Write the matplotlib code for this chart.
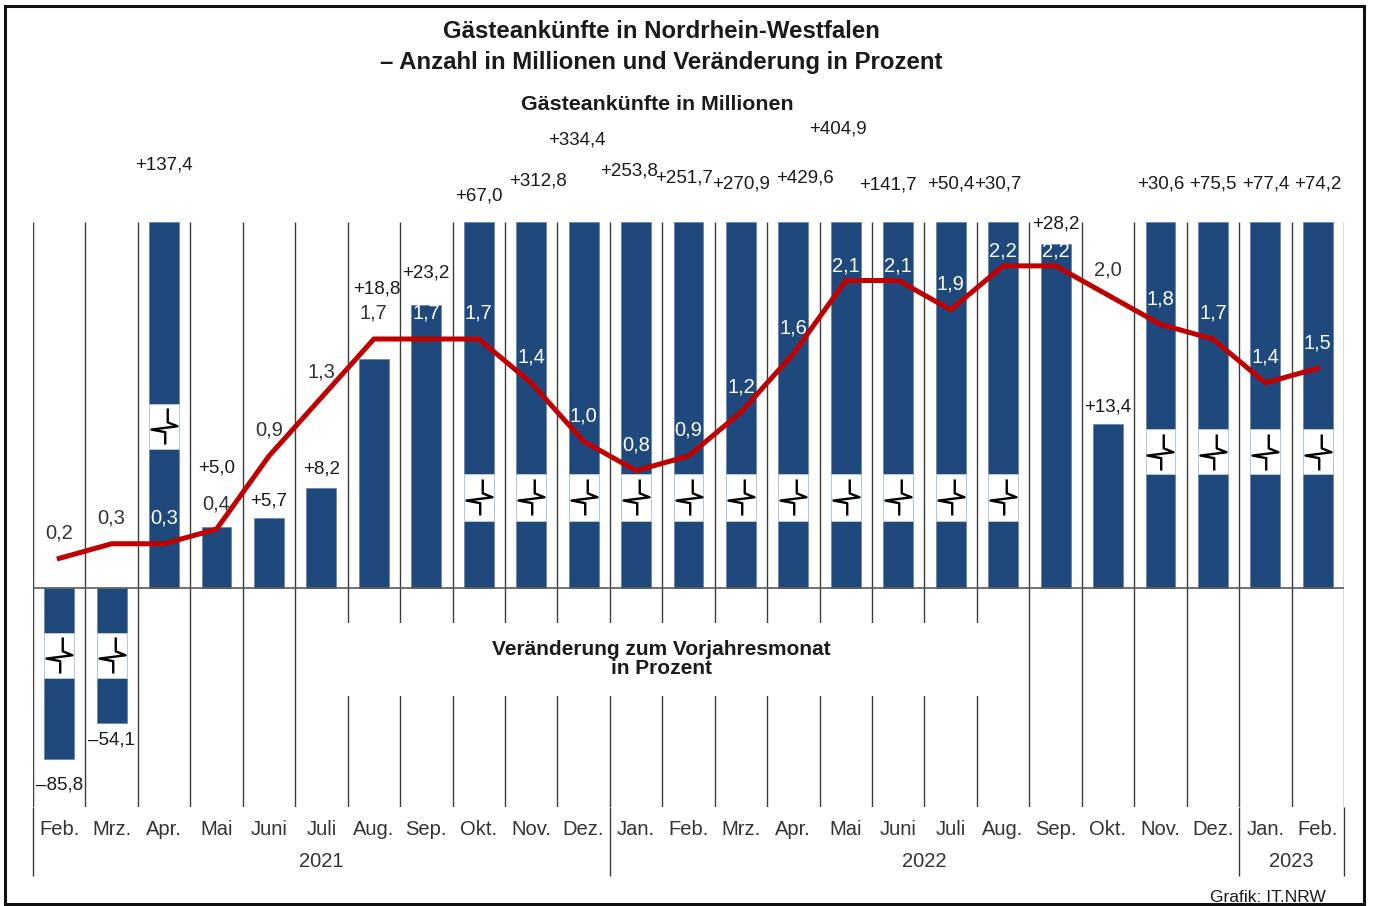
import numpy as np
import matplotlib
matplotlib.use("Agg")
import matplotlib.pyplot as plt
from matplotlib.path import Path
from matplotlib.patches import Rectangle
from matplotlib.transforms import blended_transform_factory

plt.rcParams['font.family'] = ['Liberation Sans', 'DejaVu Sans']

# ---------------- data ----------------
months = ['Feb.', 'Mrz.', 'Apr.', 'Mai', 'Juni', 'Juli', 'Aug.', 'Sep.', 'Okt.', 'Nov.', 'Dez.',
          'Jan.', 'Feb.', 'Mrz.', 'Apr.', 'Mai', 'Juni', 'Juli', 'Aug.', 'Sep.', 'Okt.', 'Nov.', 'Dez.',
          'Jan.', 'Feb.']
years = ['2021', '2022', '2023']
year_counts = [11, 12, 2]
arrivals = [0.2, 0.3, 0.3, 0.4, 0.9, 1.3, 1.7, 1.7, 1.7, 1.4, 1.0,
            0.8, 0.9, 1.2, 1.6, 2.1, 2.1, 1.9, 2.2, 2.2, 2.0, 1.8, 1.7,
            1.4, 1.5]
change = [-85.8, -54.1, 137.4, 5.0, 5.7, 8.2, 18.8, 23.2, 67.0, 312.8, 334.4,
          253.8, 251.7, 270.9, 429.6, 404.9, 141.7, 50.4, 30.7, 28.2, 13.4, 30.6, 75.5,
          77.4, 74.2]

# ---------------- layout ----------------
PCT_MIN, PCT_MAX = -18, 30          # percent axis
MIO_PER_PCT = 12                    # 1 million <-> 12 percent on shared zero
# broken-bar gaps (lower end, upper end) in drawn percent units
gap_layout = {0: (-3.7, -7.4), 1: (-3.7, -7.4), 2: (11.4, 15.1)}
for i in range(8, 19):
    gap_layout[i] = (5.5, 9.3)
for i in range(21, 25):
    gap_layout[i] = (9.3, 13.0)
neg_drawn_end = {0: -14.1, 1: -11.1}
pct_label_y = [-16.2, -12.5, 34.7, 9.8, 7.1, 9.7, 24.5, 25.8, 32.1, 33.4, 36.7,
               34.2, 33.6, 33.1, 33.6, 37.6, 33.0, 33.1, 33.1, 29.8, 14.8, 33.1, 33.1,
               33.1, 33.1]
pct_label_dx = {6: 0.06, 9: 0.13, 10: -0.13, 11: -0.13, 12: -0.08, 14: 0.23,
                15: -0.15, 16: -0.19, 18: -0.1}

BAR_C = '#1F497D'
LINE_C = '#C00000'
TXT = '#1A1A1A'
GRID = '#3C3C3C'

W, H = 1373, 906
fig = plt.figure(figsize=(W / 100, H / 100), dpi=100)
L, R, T, B = 33, 1344, 222, 807
ax = fig.add_axes([L / W, 1 - B / H, (R - L) / W, (B - T) / H])
ax.set_xlim(-0.5, len(months) - 0.5)
ax.set_ylim(PCT_MIN, PCT_MAX)
ax.axis('off')
x = np.arange(len(months))
bw = 0.57

# separators
ax.vlines(np.arange(len(months) + 1) - 0.5, PCT_MIN, PCT_MAX, colors=GRID, lw=1.0, zorder=1)
trans = blended_transform_factory(ax.transData, ax.transAxes)
bounds = np.concatenate([[0], np.cumsum(year_counts)]) - 0.5
ax.vlines(bounds, -0.118, 0, colors=GRID, lw=1.0, transform=trans, clip_on=False, zorder=1)
ax.axhline(0, color='#5A5A5A', lw=1.2, zorder=3)

# white box for center text
ax.add_patch(Rectangle((5.3, -8.86), 12.4, 5.99, fc='white', ec='none', zorder=2))
ax.text(11.48, -5.85, 'Veränderung zum Vorjahresmonat\nin Prozent', ha='center', va='center',
        fontsize=15, fontweight='bold', color=TXT, linespacing=1.0, zorder=3)

# break symbol marker (lightning-like zigzag with stubs)
bv = [(0.09, 0.5), (0.09, 0.115), (0.36, 0.006), (-0.36, -0.085), (0.02, -0.157), (0.02, -0.5)]
bc = [Path.MOVETO] + [Path.LINETO] * 5
brk_marker = Path(bv, bc)

drawn_top = []
drawn_bot = []
for i, v in enumerate(change):
    if PCT_MIN <= v <= PCT_MAX:
        ax.bar(i, v, bw, color=BAR_C, edgecolor='#5577A0', lw=0.4, zorder=2)
        drawn_top.append(max(v, 0)); drawn_bot.append(min(v, 0))
        continue
    lo, hi = gap_layout[i]
    if v > 0:
        ax.bar(i, lo, bw, bottom=0, color=BAR_C, edgecolor='#5577A0', lw=0.4, zorder=2)
        ax.bar(i, PCT_MAX - hi, bw, bottom=hi, color=BAR_C, edgecolor='#5577A0', lw=0.4, zorder=2)
        drawn_top.append(PCT_MAX); drawn_bot.append(0)
    else:
        end = neg_drawn_end[i]
        ax.bar(i, lo, bw, bottom=0, color=BAR_C, edgecolor='#5577A0', lw=0.4, zorder=2)
        ax.bar(i, end - hi, bw, bottom=hi, color=BAR_C, edgecolor='#5577A0', lw=0.4, zorder=2)
        drawn_top.append(0); drawn_bot.append(end)
    ax.add_patch(Rectangle((i - bw / 2, min(lo, hi)), bw, abs(hi - lo), fc='white',
                           ec='#B4C5DC', lw=0.7, zorder=2.5))
    ax.plot(i, (lo + hi) / 2, marker=brk_marker, ms=26, mfc='none', mec='black',
            mew=1.7, ls='none', zorder=3)


def fmt_pct(v):
    s = f"{v:+.1f}".replace('.', ',')
    return s.replace('-', '–')


for i, v in enumerate(change):
    ax.text(i + pct_label_dx.get(i, 0), pct_label_y[i], fmt_pct(v), ha='center', va='center',
            fontsize=13.5, color=TXT, clip_on=False, zorder=4)

# month and year labels
for i, m in enumerate(months):
    ax.text(i, -0.039, m, transform=trans, ha='center', va='center', fontsize=14.5, color='#333333')
for k, yname in enumerate(years):
    ax.text((bounds[k] + bounds[k + 1]) / 2, -0.094, yname, transform=trans, ha='center',
            va='center', fontsize=14.5, color='#333333')

# line on its own axis
ax2 = ax.twinx()
ax2.set_ylim(PCT_MIN / MIO_PER_PCT, PCT_MAX / MIO_PER_PCT)
ax2.axis('off')
ax2.plot(x, arrivals, color=LINE_C, lw=3.6, solid_joinstyle='miter', zorder=5)
for i, v in enumerate(arrivals):
    off = 0.1 if v >= 2.1 else 0.175
    ly = v + off
    inside = drawn_bot[i] <= ly * MIO_PER_PCT <= drawn_top[i]
    c = 'white' if inside else '#333333'
    ax2.text(i, ly, f"{v:.1f}".replace('.', ','), ha='center', va='center',
             fontsize=14.5, color=c, zorder=6)

# titles
fig.text(661 / W, 1 - 31 / H, 'Gästeankünfte in Nordrhein-Westfalen', ha='center', va='center',
         fontsize=17.3, fontweight='bold', color=TXT)
fig.text(661 / W, 1 - 63 / H, '– Anzahl in Millionen und Veränderung in Prozent', ha='center',
         va='center', fontsize=17.3, fontweight='bold', color=TXT)
fig.text(657 / W, 1 - 104 / H, 'Gästeankünfte in Millionen', ha='center', va='center',
         fontsize=15.4, fontweight='bold', color=TXT)
fig.text(1268 / W, 1 - 898 / H, 'Grafik: IT.NRW', ha='center', va='center', fontsize=12.5,
         color=TXT)

# frame
fig.add_artist(Rectangle((5 / W, 1 - 904 / H), (1364 - 5) / W, (904 - 6) / H, fill=False,
                         lw=2.2, edgecolor='#111111', transform=fig.transFigure))

fig.savefig('out.png', dpi=100)
